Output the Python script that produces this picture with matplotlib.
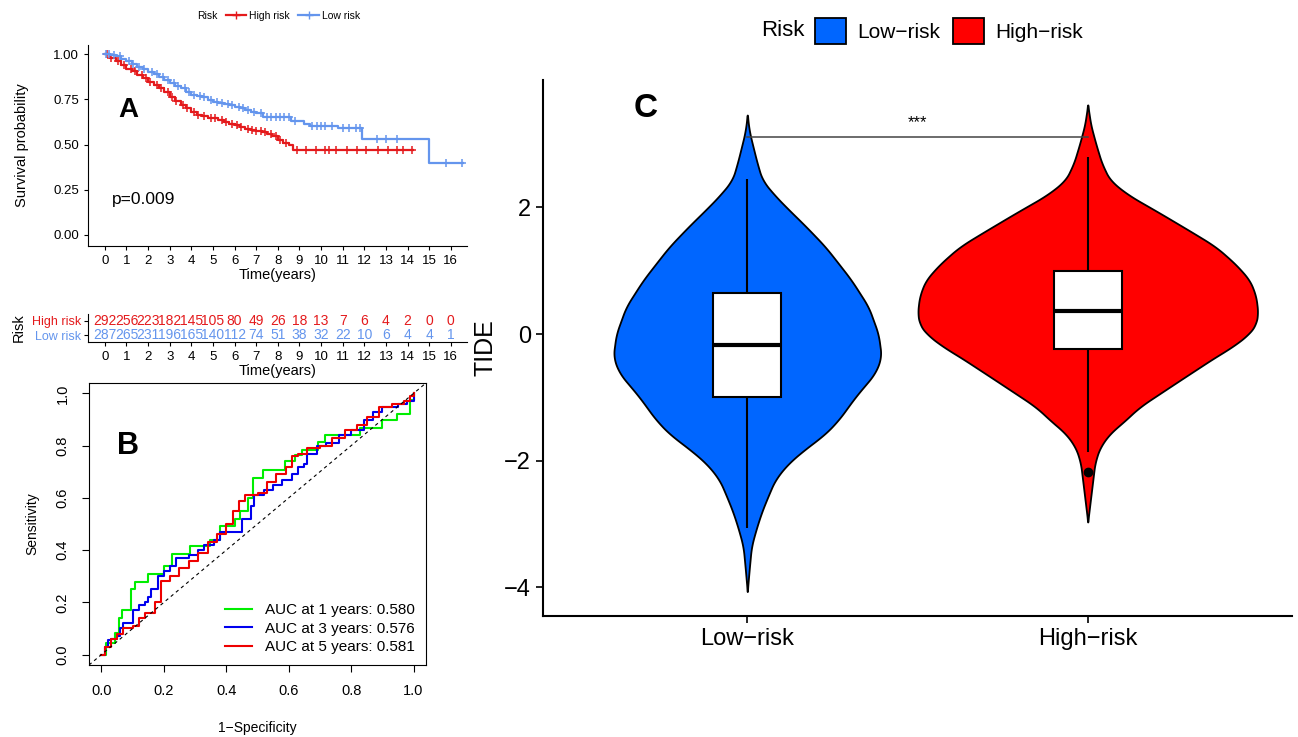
import numpy as np
import matplotlib
matplotlib.use("Agg")
import matplotlib.pyplot as plt
from matplotlib.lines import Line2D
from matplotlib.patches import Patch

plt.rcParams['font.family'] = ['Liberation Sans', 'DejaVu Sans']

# ---------------- data ----------------
# A: Kaplan-Meier curves
high_t = [0, 0.25, 0.5, 0.75, 1, 1.25, 1.5, 1.75, 2, 2.25, 2.5, 2.75, 3, 3.25, 3.5, 3.75,
          4, 4.25, 4.5, 4.75, 5, 5.25, 5.5, 5.75, 6, 6.25, 6.5, 6.75, 7, 7.25, 7.5, 7.75,
          8, 8.25, 8.5, 8.7, 14.25]
high_s = [1.0, 0.98, 0.96, 0.94, 0.92, 0.905, 0.885, 0.865, 0.847, 0.83, 0.81, 0.79, 0.765,
          0.74, 0.72, 0.70, 0.68, 0.665, 0.655, 0.648, 0.645, 0.635, 0.625, 0.615, 0.61,
          0.595, 0.585, 0.578, 0.577, 0.57, 0.56, 0.545, 0.526, 0.51, 0.495, 0.47, 0.47]
low_t = [0, 0.25, 0.5, 0.75, 1, 1.25, 1.5, 1.75, 2, 2.25, 2.5, 2.75, 3, 3.25, 3.5, 3.75,
         4, 4.25, 4.5, 4.75, 5, 5.25, 5.5, 5.75, 6, 6.25, 6.5, 6.75, 7, 7.3, 8.6, 9.2,
         9.5, 10.8, 11.9, 15.0, 16.55]
low_s = [1.0, 0.995, 0.99, 0.975, 0.96, 0.945, 0.93, 0.915, 0.90, 0.888, 0.873, 0.858, 0.84,
         0.825, 0.81, 0.79, 0.774, 0.768, 0.76, 0.748, 0.737, 0.73, 0.722, 0.716, 0.71,
         0.70, 0.69, 0.68, 0.673, 0.654, 0.63, 0.615, 0.605, 0.59, 0.53, 0.40, 0.40]
high_cens = [0.1, 0.3, 0.6, 0.9, 1.2, 1.4, 1.7, 1.9, 2.1, 2.4, 2.6, 2.9, 3.1, 3.3, 3.6, 3.8,
             4.1, 4.3, 4.6, 4.9, 5.1, 5.4, 5.6, 5.9, 6.1, 6.3, 6.6, 6.8, 7.0, 7.2, 7.4, 7.7,
             7.9, 8.1, 8.4, 8.9, 9.3, 9.75, 10.2, 10.35, 10.7, 11.2, 11.65, 12.1, 12.65,
             13.1, 13.5, 13.8, 14.2]
low_cens = [0.05, 0.2, 0.4, 0.7, 1.1, 1.3, 1.6, 1.8, 2.2, 2.4, 2.7, 2.9, 3.2, 3.4, 3.7, 3.9,
            4.1, 4.4, 4.6, 4.9, 5.2, 5.4, 5.7, 5.9, 6.2, 6.4, 6.6, 6.9, 7.2, 7.5, 7.7, 7.9,
            8.1, 8.3, 8.5, 8.8, 9.6, 9.8, 10.0, 10.2, 10.5, 11.0, 11.3, 11.6, 11.8, 12.6,
            13.0, 13.5, 15.8, 16.5]
pval = "p=0.009"

years = list(range(17))
high_risk_n = [292, 256, 223, 182, 145, 105, 80, 49, 26, 18, 13, 7, 6, 4, 2, 0, 0]
low_risk_n = [287, 265, 231, 196, 165, 140, 112, 74, 51, 38, 32, 22, 10, 6, 4, 4, 1]

# B: time-dependent ROC
roc1_x = [0, 0.016, 0.043, 0.057, 0.067, 0.094, 0.107, 0.15, 0.2, 0.225, 0.283, 0.348, 0.38,
          0.428, 0.444, 0.47, 0.487, 0.519, 0.588, 0.62, 0.642, 0.695, 0.717, 0.829, 0.898,
          0.947, 0.989, 1.0]
roc1_y = [0, 0.046, 0.084, 0.14, 0.17, 0.25, 0.279, 0.307, 0.339, 0.387, 0.415, 0.44, 0.494,
          0.52, 0.549, 0.60, 0.676, 0.708, 0.74, 0.766, 0.785, 0.813, 0.842, 0.868, 0.897,
          0.922, 0.976, 1.0]
roc3_x = [0, 0.01, 0.02, 0.03, 0.05, 0.06, 0.07, 0.1, 0.12, 0.14, 0.15, 0.16, 0.18, 0.2, 0.22,
          0.24, 0.28, 0.31, 0.33, 0.36, 0.38, 0.43, 0.45, 0.48, 0.49, 0.52, 0.55, 0.58, 0.61,
          0.63, 0.65, 0.66, 0.69, 0.72, 0.76, 0.8, 0.84, 0.87, 0.9, 0.95, 0.98, 1.0]
roc3_y = [0, 0.03, 0.055, 0.06, 0.07, 0.1, 0.12, 0.17, 0.19, 0.2, 0.22, 0.25, 0.3, 0.32, 0.34,
          0.37, 0.38, 0.40, 0.42, 0.44, 0.47, 0.47, 0.52, 0.57, 0.61, 0.63, 0.65, 0.67, 0.69,
          0.72, 0.73, 0.77, 0.80, 0.81, 0.84, 0.86, 0.90, 0.93, 0.95, 0.96, 0.97, 1.0]
roc5_x = [0, 0.01, 0.03, 0.05, 0.07, 0.1, 0.12, 0.14, 0.17, 0.19, 0.22, 0.25, 0.28, 0.31,
          0.34, 0.37, 0.4, 0.42, 0.44, 0.46, 0.5, 0.53, 0.56, 0.59, 0.61, 0.63, 0.66, 0.7,
          0.74, 0.78, 0.82, 0.85, 0.89, 0.93, 0.97, 0.99, 1.0]
roc5_y = [0, 0.03, 0.06, 0.08, 0.1, 0.11, 0.14, 0.16, 0.2, 0.28, 0.3, 0.33, 0.36, 0.39, 0.43,
          0.46, 0.5, 0.55, 0.59, 0.61, 0.62, 0.66, 0.69, 0.72, 0.76, 0.77, 0.79, 0.80, 0.83,
          0.86, 0.88, 0.91, 0.95, 0.96, 0.97, 0.99, 1.0]
auc_labels = ["AUC at 1 years: 0.580", "AUC at 3 years: 0.576", "AUC at 5 years: 0.581"]

# C: TIDE violins (outline half-widths, in category units)
groups = ["Low\u2212risk", "High\u2212risk"]
low_v_y = [3.46, 3.2, 3.0, 2.7, 2.43, 2.2, 2.0, 1.7, 1.38, 1.1, 0.85, 0.43, 0.0, -0.36, -0.62,
           -0.99, -1.36, -1.6, -1.78, -2.04, -2.3, -2.6, -2.83, -3.1, -3.36, -3.7, -4.07]
low_v_w = [0, 0.006, 0.015, 0.029, 0.044, 0.079, 0.115, 0.172, 0.229, 0.27, 0.306, 0.356, 0.385,
           0.394, 0.376, 0.318, 0.268, 0.225, 0.179, 0.121, 0.082, 0.058, 0.041, 0.025,
           0.012, 0.006, 0]
high_v_y = [3.62, 3.3, 3.0, 2.7, 2.43, 2.2, 1.91, 1.6, 1.38, 1.1, 0.85, 0.6, 0.33, 0.15, 0.01,
            -0.2, -0.36, -0.73, -1.15, -1.4, -1.57, -1.8, -2.04, -2.57, -2.97]
high_v_w = [0, 0.009, 0.024, 0.041, 0.065, 0.118, 0.212, 0.309, 0.376, 0.435, 0.476, 0.494,
            0.5, 0.494, 0.476, 0.426, 0.376, 0.271, 0.153, 0.103, 0.065, 0.035, 0.021, 0.009, 0]
q1 = [-1.0, -0.24]
med = [-0.17, 0.36]
q3 = [0.65, 1.0]
whisk_lo = [-3.06, -1.86]
whisk_hi = [2.45, 2.8]
outliers = [[], [-2.18]]

red = "#E41A1C"
blue = "#6495ED"

W, H = 1298, 737
fig = plt.figure(figsize=(W / 100, H / 100), dpi=100)


def px_axes(l, t, r, b):
    return fig.add_axes([l / W, 1 - b / H, (r - l) / W, (b - t) / H])


def surv_at(t, s, ct):
    idx = np.searchsorted(t, ct, side='right') - 1
    return np.array(s)[idx]


def smooth_outline(vy, vw, n=600, k=21):
    # resample the read outline and round off the corners a little
    vy = np.array(vy)[::-1]
    vw = np.array(vw)[::-1]
    yy = np.linspace(vy[0], vy[-1], n)
    ww = np.interp(yy, vy, vw)
    ker = np.ones(k) / k
    ws = np.convolve(np.pad(ww, k // 2, mode='edge'), ker, mode='valid')
    ws[0] = ws[-1] = 0
    return yy, np.clip(ws, 0, None)


# ---------------- panel A ----------------
axA = px_axes(88, 45, 467, 246)
for t, s, c, cens in [(high_t, high_s, red, high_cens), (low_t, low_s, blue, low_cens)]:
    axA.step(t, s, where='post', color=c, lw=1.6)
    axA.plot(cens, surv_at(t, s, cens), '+', color=c, ms=6, mew=1.1, ls='none')
axA.set_xlim(-0.78, 16.75)
axA.set_ylim(-0.061, 1.05)
axA.set_xticks(years)
axA.set_yticks([0, 0.25, 0.5, 0.75, 1.0])
axA.set_yticklabels(["0.00", "0.25", "0.50", "0.75", "1.00"])
axA.tick_params(labelsize=9.5, length=3, colors='black')
axA.spines[['top', 'right']].set_visible(False)
axA.set_xlabel("Time(years)", fontsize=10.5, labelpad=1)
axA.set_ylabel("Survival probability", fontsize=10.5, labelpad=17)
axA.text(1.1, 0.69, "A", fontsize=20, fontweight='bold', ha='center', va='center')
axA.text(0.34, 0.195, pval, fontsize=12.5, ha='left', va='center')

fig.text(197 / W, 1 - 16 / H, "Risk", fontsize=7.5, va='center', ha='left')
km_handles = [Line2D([], [], color=red, marker='+', lw=1.6, ms=6),
              Line2D([], [], color=blue, marker='+', lw=1.6, ms=6)]
fig.legend(km_handles, ["High risk", "Low risk"], loc='center',
           bbox_to_anchor=(293 / W, 1 - 16 / H), ncol=2, frameon=False, fontsize=7.5,
           handlelength=2.0, handletextpad=0.3, columnspacing=0.8)

# ---------------- risk table ----------------
axT = px_axes(88, 314, 467, 342)
for yr, hn, ln in zip(years, high_risk_n, low_risk_n):
    axT.text(yr, 1.5, str(hn), color=red, fontsize=10, ha='center', va='center')
    axT.text(yr, 0.5, str(ln), color=blue, fontsize=10, ha='center', va='center')
axT.set_xlim(-0.78, 16.75)
axT.set_ylim(0, 2)
axT.set_xticks(years)
axT.set_yticks([1.5, 0.5])
axT.set_yticklabels(["High risk", "Low risk"], fontsize=9)
for lab, c in zip(axT.get_yticklabels(), [red, blue]):
    lab.set_color(c)
axT.tick_params(axis='x', labelsize=9.5, length=3)
axT.tick_params(axis='y', length=3, pad=2)
axT.spines[['top', 'right']].set_visible(False)
axT.set_xlabel("Time(years)", fontsize=10.5, labelpad=1)
axT.set_ylabel("Risk", fontsize=10.5, labelpad=4)

# ---------------- panel B ----------------
axB = px_axes(89, 383, 426, 665)
for x, y, c, lab in [(roc1_x, roc1_y, "#00EE00", auc_labels[0]),
                     (roc3_x, roc3_y, "#0000EE", auc_labels[1]),
                     (roc5_x, roc5_y, "#EE0000", auc_labels[2])]:
    axB.plot(x, y, drawstyle='steps-post', color=c, lw=1.5, label=lab)
axB.plot([-0.04, 1.04], [-0.04, 1.04], ls='--', color='black', lw=0.8, dashes=(3, 3))
axB.set_xlim(-0.04, 1.04)
axB.set_ylim(-0.04, 1.04)
ticks = [0, 0.2, 0.4, 0.6, 0.8, 1.0]
axB.set_xticks(ticks)
axB.set_yticks(ticks)
axB.set_xticklabels([f"{v:.1f}" for v in ticks])
axB.set_yticklabels([f"{v:.1f}" for v in ticks], rotation=90, va='center')
axB.tick_params(labelsize=10.5, length=5, pad=9)
axB.set_xlabel("1\u2212Specificity", fontsize=10, labelpad=16)
axB.set_ylabel("Sensitivity", fontsize=10, labelpad=12)
axB.legend(loc='lower right', frameon=False, fontsize=11, handlelength=1.8,
           borderaxespad=0.3, labelspacing=0.3, handletextpad=0.85)
axB.text(0.084, 0.80, "B", fontsize=22, fontweight='bold', ha='center', va='center')

# ---------------- panel C ----------------
axC = px_axes(543, 80, 1292, 616)
for pos, vy, vw, col in [(1, low_v_y, low_v_w, "#0066FF"), (2, high_v_y, high_v_w, "#FF0000")]:
    yy, ww = smooth_outline(vy, vw)
    axC.fill_betweenx(yy, pos - ww, pos + ww, facecolor=col, edgecolor='black', lw=1.3, zorder=1)
for i in range(2):
    pos = i + 1
    axC.bar(pos, q3[i] - q1[i], bottom=q1[i], width=0.2, color='white', edgecolor='black',
            lw=1.5, zorder=3)
    axC.hlines(med[i], pos - 0.1, pos + 0.1, color='black', lw=3, zorder=4)
    axC.vlines(pos, whisk_lo[i], q1[i], color='black', lw=1.5, zorder=2)
    axC.vlines(pos, q3[i], whisk_hi[i], color='black', lw=1.5, zorder=2)
    if outliers[i]:
        axC.plot([pos] * len(outliers[i]), outliers[i], 'o', color='black', ms=6, zorder=5)
axC.plot([1, 2], [3.11, 3.11], color='#444444', lw=1.1, zorder=2)
axC.text(1.5, 3.22, "***", fontsize=12, ha='center', va='bottom')
axC.text(0.70, 3.57, "C", fontsize=24, fontweight='bold', ha='center', va='center')
axC.set_xlim(0.4, 2.6)
axC.set_ylim(-4.455, 4.013)
axC.set_xticks([1, 2])
axC.set_xticklabels(groups)
axC.set_yticks([-4, -2, 0, 2])
axC.tick_params(labelsize=17, length=5, width=1.2, colors='black')
axC.spines[['top', 'right']].set_visible(False)
for sp in ['left', 'bottom']:
    axC.spines[sp].set_linewidth(1.5)
axC.set_ylabel("TIDE", fontsize=18, labelpad=5)

fig.text(761 / W, 1 - 31 / H, "Risk", fontsize=16, va='center', ha='left')
v_handles = [Patch(facecolor="#0066FF", edgecolor='black', lw=1.3),
             Patch(facecolor="#FF0000", edgecolor='black', lw=1.3)]
fig.legend(v_handles, groups, loc='center', bbox_to_anchor=(949 / W, 1 - 31 / H), ncol=2,
           frameon=False, fontsize=15, handlelength=1.5, handleheight=1.6,
           handletextpad=0.55, columnspacing=0.6)

fig.savefig("out.png", dpi=100)
